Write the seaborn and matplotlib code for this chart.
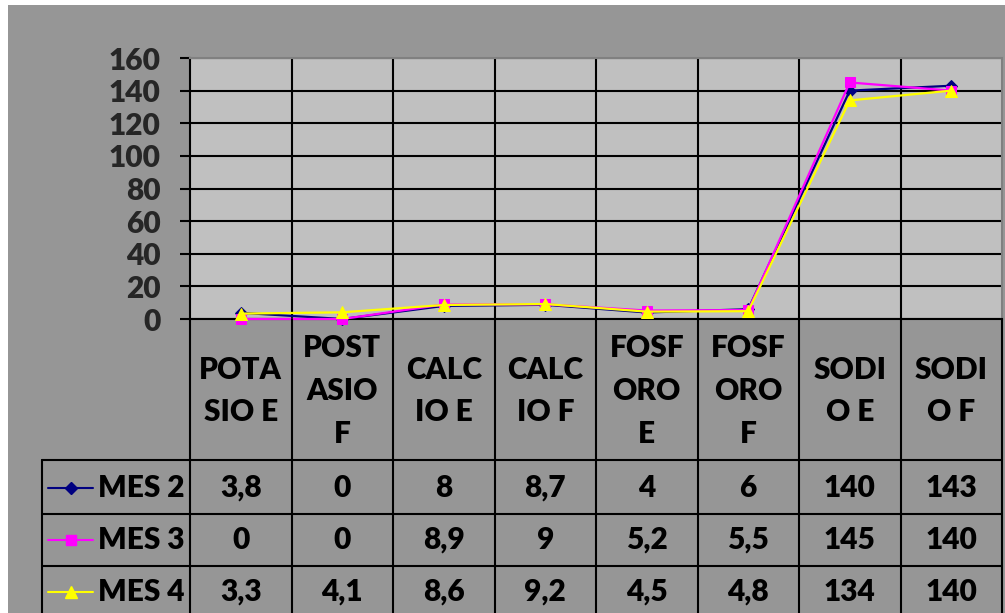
import matplotlib
matplotlib.use("Agg")
import matplotlib.pyplot as plt
import matplotlib.transforms as mtransforms
from matplotlib.patches import Rectangle
from matplotlib.lines import Line2D
import seaborn as sns
import pandas as pd

# ---------------- data ----------------
categories = ["POTA\nSIO E", "POST\nASIO\nF", "CALC\nIO E", "CALC\nIO F",
              "FOSF\nORO\nE", "FOSF\nORO\nF", "SODI\nO E", "SODI\nO F"]
series_names = ["MES 2", "MES 3", "MES 4"]
mes2 = [3.8, 0, 8, 8.7, 4, 6, 140, 143]
mes3 = [0, 0, 8.9, 9, 5.2, 5.5, 145, 140]
mes4 = [3.3, 4.1, 8.6, 9.2, 4.5, 4.8, 134, 140]
mes2_labels = ["3,8", "0", "8", "8,7", "4", "6", "140", "143"]
mes3_labels = ["0", "0", "8,9", "9", "5,2", "5,5", "145", "140"]
mes4_labels = ["3,3", "4,1", "8,6", "9,2", "4,5", "4,8", "134", "140"]
yticks = [0, 20, 40, 60, 80, 100, 120, 140, 160]

# ---------------- style ----------------
colors = {"MES 2": "#000080", "MES 3": "#FF00FF", "MES 4": "#FFFF00"}
markers = {"MES 2": "D", "MES 3": "s", "MES 4": "^"}
msizes = {"MES 2": 6, "MES 3": 7.5, "MES 4": 9}
FONT = "Lato"
FW = "heavy"
FS = 21.5

W, H, DPI = 1005, 613, 100
sns.set_theme(style="white")
plt.rcParams["font.family"] = [FONT, "DejaVu Sans"]
plt.rcParams["font.weight"] = FW

fig = plt.figure(figsize=(W / DPI, H / DPI), dpi=DPI)
fig.patch.set_facecolor("white")

# pixel transform (origin top-left)
pix = mtransforms.Affine2D().scale(1 / DPI, -1 / DPI).translate(0, H / DPI) + fig.dpi_scale_trans

# outer gray chart area
fig.patches.append(Rectangle((8, 5), W - 8, H - 5, transform=pix,
                             facecolor="#969696", edgecolor="none", zorder=-10))

L, R, T, B = 190, 1002, 58, 319
ax = fig.add_axes([L / W, 1 - B / H, (R - L) / W, (B - T) / H])
ax.set_zorder(1)
ax.set_facecolor("#C0C0C0")

df = pd.DataFrame({
    "cat": list(range(len(categories))) * 3,
    "value": mes2 + mes3 + mes4,
    "serie": [s for s in series_names for _ in categories],
})

for s in series_names:
    sub = df[df["serie"] == s]
    sns.lineplot(data=sub, x="cat", y="value", ax=ax, color=colors[s],
                 marker=markers[s], markersize=msizes[s], markeredgecolor=colors[s],
                 linewidth=1.6, legend=False, zorder=3, clip_on=False)

ax.set_xlim(-0.5, len(categories) - 0.5)
ax.set_ylim(0, 160)
ax.set_yticks(yticks)
ax.set_xticks([])
ax.set_xlabel("")
ax.set_ylabel("")
ax.yaxis.grid(True, color="black", linewidth=1.5)
ax.set_axisbelow(True)
for k in range(1, len(categories)):
    ax.axvline(k - 0.5, color="black", linewidth=1.5, zorder=1)
ax.tick_params(axis="y", which="both", left=True, length=7, width=1.5,
               color="black", pad=14, labelsize=FS)
for lab in ax.get_yticklabels():
    lab.set_fontweight(FW)
    lab.set_fontfamily(FONT)
for side in ["left", "bottom"]:
    ax.spines[side].set_color("black")
    ax.spines[side].set_linewidth(1.5)
for side in ["top", "right"]:
    ax.spines[side].set_color("#808080")
    ax.spines[side].set_linewidth(1.5)

# ---------------- data table ----------------
xpix = mtransforms.blended_transform_factory(ax.transData, pix)
row_lines = [460, 514, 566]
row_centers = [488, 540, 592]
TL = 42

# vertical table lines (category boundaries)
for k in range(len(categories) + 1):
    fig.add_artist(Line2D([k - 0.5, k - 0.5], [B, H], transform=xpix,
                          color="black", linewidth=1.5, zorder=5))
# horizontal row lines
for y in row_lines:
    fig.add_artist(Line2D([TL, R], [y, y], transform=pix, color="black",
                          linewidth=1.5, zorder=5))
fig.add_artist(Line2D([TL, TL], [row_lines[0], H], transform=pix, color="black",
                      linewidth=1.5, zorder=5))

# header labels
for i, c in enumerate(categories):
    fig.text(i, 391, c, transform=xpix, ha="center", va="center",
             fontsize=FS, fontweight=FW, fontfamily=FONT,
             linespacing=1.65, color="black", zorder=6)

# rows
all_labels = [mes2_labels, mes3_labels, mes4_labels]
for r, (s, labs) in enumerate(zip(series_names, all_labels)):
    yc = row_centers[r]
    for i, t in enumerate(labs):
        fig.text(i, yc, t, transform=xpix, ha="center", va="center",
                 fontsize=FS, fontweight=FW, fontfamily=FONT,
                 color="black", zorder=6)
    fig.add_artist(Line2D([48, 93], [yc, yc], transform=pix, color=colors[s],
                          linewidth=1.5, zorder=6))
    fig.add_artist(Line2D([71], [yc], transform=pix, color=colors[s],
                          marker=markers[s], markersize=msizes[s],
                          markeredgecolor=colors[s], linestyle="none", zorder=7))
    fig.text(98, yc, s, transform=pix, ha="left", va="center",
             fontsize=FS, fontweight=FW, fontfamily=FONT,
             color="black", zorder=6)

fig.savefig("out.png", dpi=DPI)
